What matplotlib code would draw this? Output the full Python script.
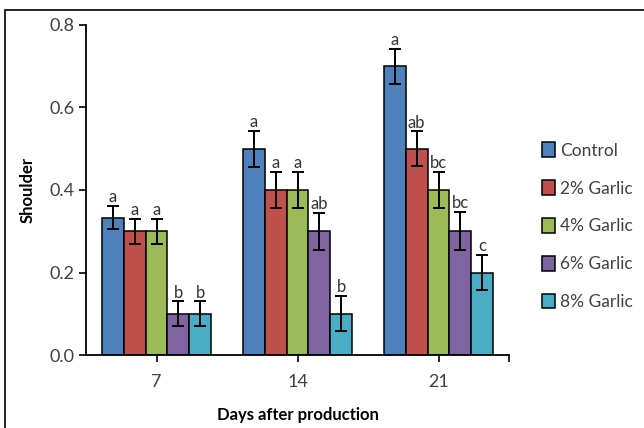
"""Grouped bar chart of shoulder scores by garlic level and storage day."""

import matplotlib.pyplot as plt
from matplotlib.patches import Rectangle
import numpy as np

plt.rcParams['font.family'] = ['Lato', 'DejaVu Sans']

days = ['7', '14', '21']
series = ['Control', '2% Garlic', '4% Garlic', '6% Garlic', '8% Garlic']
colors = ['#4F81BD', '#C0504D', '#9BBB59', '#8064A2', '#4BACC6']

control = [0.333, 0.5, 0.7]
garlic_2 = [0.3, 0.4, 0.5]
garlic_4 = [0.3, 0.4, 0.4]
garlic_6 = [0.1, 0.3, 0.3]
garlic_8 = [0.1, 0.1, 0.2]

err_control = [0.028, 0.044, 0.042]
err_2 = [0.03, 0.044, 0.042]
err_4 = [0.03, 0.044, 0.044]
err_6 = [0.03, 0.045, 0.046]
err_8 = [0.03, 0.043, 0.043]

letters_control = ['a', 'a', 'a']
letters_2 = ['a', 'a', 'ab']
letters_4 = ['a', 'a', 'bc']
letters_6 = ['b', 'ab', 'bc']
letters_8 = ['b', 'b', 'c']

values = [control, garlic_2, garlic_4, garlic_6, garlic_8]
errors = [err_control, err_2, err_4, err_6, err_8]
letters = [letters_control, letters_2, letters_4, letters_6, letters_8]

fig = plt.figure(figsize=(6.44, 4.28), dpi=100)
ax = fig.add_axes([86 / 644, 1 - 355 / 428, 423 / 644, 330 / 428])

# outer frame like the exported Excel chart area
fig.patches.append(Rectangle((5 / 644, -0.05), 1.0, 1 - 10 / 428 + 0.05,
                             transform=fig.transFigure, fill=False,
                             edgecolor='black', linewidth=1.2))

x = np.arange(len(days))
width = 0.156
for i, (name, vals, errs, labs) in enumerate(zip(series, values, errors, letters)):
    pos = x + (i - 2) * width
    ax.bar(pos, vals, width, color=colors[i], edgecolor='black',
           linewidth=1.1, label=name, zorder=2)
    ax.errorbar(pos, vals, yerr=errs, fmt='none', ecolor='black',
                elinewidth=1.4, capsize=4, capthick=1.4, zorder=3)
    for p, v, e, lab in zip(pos, vals, errs, labs):
        ax.text(p, v + e + 0.002, lab, ha='center', va='bottom',
                fontsize=12, color='#333333')

ax.set_xlim(-0.5, 2.5)
ax.set_ylim(0, 0.8)
ax.set_yticks([0.0, 0.2, 0.4, 0.6, 0.8])
ax.set_yticklabels(['0.0', '0.2', '0.4', '0.6', '0.8'])
ax.set_xticks(x)
ax.set_xticklabels(days)
ax.set_xticks([2.5], minor=True)
ax.tick_params(axis='both', which='both', direction='out', length=5,
               width=1.2, labelsize=13, labelcolor='#404040')
ax.tick_params(axis='x', pad=9)
for side in ['top', 'right']:
    ax.spines[side].set_visible(False)
for side in ['left', 'bottom']:
    ax.spines[side].set_linewidth(1.3)

ax.set_ylabel('Shoulder', fontsize=12, fontweight='bold', labelpad=10)
ax.set_xlabel('Days after production', fontsize=12, fontweight='bold',
              labelpad=12)

ax.legend(loc='center left', bbox_to_anchor=(1.04, 0.39), frameon=False,
          fontsize=12.5, handlelength=0.75, handleheight=0.9,
          handletextpad=0.3, labelspacing=1.25, labelcolor='#404040')

fig.savefig('out.png', dpi=100)
